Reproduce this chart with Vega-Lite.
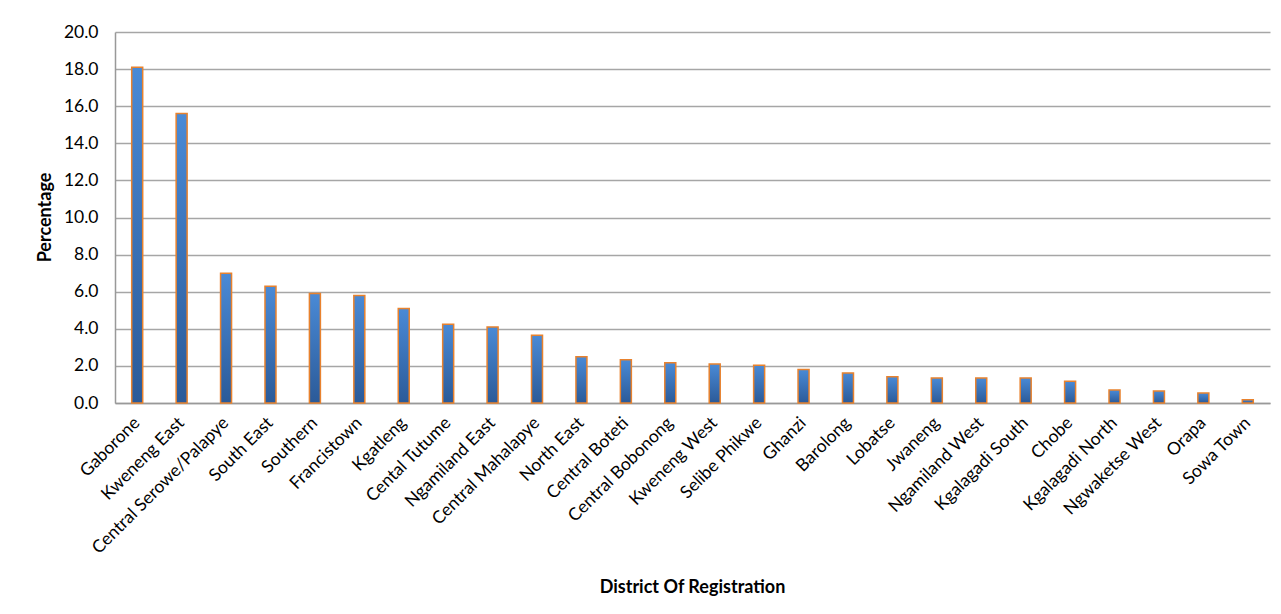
{
  "$schema": "https://vega.github.io/schema/vega-lite/v6.json",
  "width": 1155,
  "height": 371,
  "autosize": {"type": "none"},
  "padding": {"left": 115, "top": 32, "right": 11, "bottom": 211},
  "background": "white",
  "data": {"values": [
    {"district": "Gaborone", "pct": 18.1},
    {"district": "Kweneng East", "pct": 15.6},
    {"district": "Central Serowe/Palapye", "pct": 7.0},
    {"district": "South East", "pct": 6.3},
    {"district": "Southern", "pct": 5.9},
    {"district": "Francistown", "pct": 5.8},
    {"district": "Kgatleng", "pct": 5.1},
    {"district": "Cental Tutume", "pct": 4.25},
    {"district": "Ngamiland East", "pct": 4.1},
    {"district": "Central Mahalapye", "pct": 3.65},
    {"district": "North East", "pct": 2.5},
    {"district": "Central Boteti", "pct": 2.33},
    {"district": "Central Bobonong", "pct": 2.17},
    {"district": "Kweneng West", "pct": 2.1},
    {"district": "Selibe Phikwe", "pct": 2.03},
    {"district": "Ghanzi", "pct": 1.8},
    {"district": "Barolong", "pct": 1.62},
    {"district": "Lobatse", "pct": 1.42},
    {"district": "Jwaneng", "pct": 1.35},
    {"district": "Ngamiland West", "pct": 1.35},
    {"district": "Kgalagadi South", "pct": 1.35},
    {"district": "Chobe", "pct": 1.17},
    {"district": "Kgalagadi North", "pct": 0.7},
    {"district": "Ngwaketse West", "pct": 0.65},
    {"district": "Orapa", "pct": 0.54},
    {"district": "Sowa Town", "pct": 0.18}
  ]},
  "mark": {
    "type": "bar",
    "size": 11,
    "stroke": "#e8822e",
    "strokeWidth": 1.5,
    "fill": {
      "gradient": "linear",
      "x1": 0, "y1": 0, "x2": 0, "y2": 1,
      "stops": [
        {"offset": 0, "color": "#4a8ad6"},
        {"offset": 1, "color": "#2b5a98"}
      ]
    }
  },
  "encoding": {
    "x": {
      "field": "district",
      "type": "nominal",
      "sort": null,
      "scale": {"paddingInner": 0, "paddingOuter": 0},
      "axis": {
        "title": "District Of Registration",
        "titleFont": "Lato",
        "titleFontSize": 18,
        "titleFontWeight": "bold",
        "titleColor": "#000000",
        "titleX": 577,
        "titleY": 175,
        "titleAlign": "center",
        "titleBaseline": "top",
        "labelAngle": -45,
        "labelAlign": "right",
        "labelBaseline": "middle",
        "labelFont": "Lato",
        "labelFontSize": 17.5,
        "labelColor": "#000000",
        "labelPadding": 17,
        "labelOverlap": false,
        "labelLimit": 300,
        "ticks": false,
        "domainColor": "#999999",
        "domainWidth": 1.5
      }
    },
    "y": {
      "field": "pct",
      "type": "quantitative",
      "scale": {"domain": [0, 20], "nice": false},
      "axis": {
        "title": "Percentage",
        "titleFont": "Lato",
        "titleFontSize": 18,
        "titleFontWeight": "bold",
        "titleColor": "#000000",
        "titleX": -70,
        "titleY": 185,
        "titleAlign": "center",
        "titleBaseline": "middle",
        "values": [0, 2, 4, 6, 8, 10, 12, 14, 16, 18, 20],
        "format": ".1f",
        "labelFont": "Lato",
        "labelFontSize": 17.5,
        "labelColor": "#000000",
        "labelPadding": 17,
        "ticks": false,
        "grid": true,
        "gridColor": "#a6a6a6",
        "gridWidth": 1.5,
        "domainColor": "#999999",
        "domainWidth": 1.5
      }
    }
  },
  "config": {"view": {"stroke": null}}
}
